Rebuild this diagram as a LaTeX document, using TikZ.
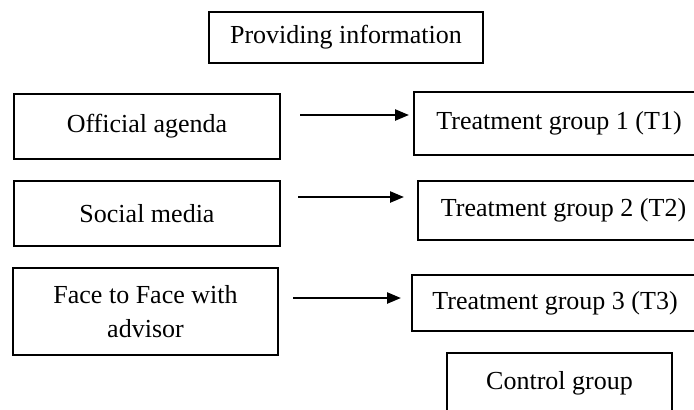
\documentclass[tikz,border=0pt]{standalone}
\usepackage{fontspec}
\setmainfont{Liberation Serif}
\usepackage{tikz}
\usetikzlibrary{arrows.meta}

\begin{document}
\begin{tikzpicture}[x=0.5pt, y=-0.5pt]
\tikzstyle{group} = [rectangle, draw=black, line width=1 pt, inner sep=0 pt, text centered, font=\fontsize{13}{17}\selectfont]
\tikzstyle{link} = [-{Triangle[length=7pt, width=5.5pt]}, line width=1.2 pt]
\useasboundingbox (0,0) rectangle (694,409);
\clip (0,0) rectangle (694,409);

\node (info)     [group, minimum width=137 pt, minimum height=25.5 pt] at (346,37.5) {Providing information};
\node (official) [group, minimum width=133 pt, minimum height=32.5 pt] at (147,126.5) {Official agenda};
\node (social)   [group, minimum width=133 pt, minimum height=32.5 pt] at (147,213.5) {Social media};
\node (face)     [group, align=center, minimum width=132.5 pt, minimum height=43.5 pt, text depth=-4 pt] at (145.5,311.5) {Face to Face with\\advisor};

\node (T1) [group, minimum width=145 pt, minimum height=31.5 pt] at (559,123.5) {Treatment group 1 (T1)};
\node (T2) [group, minimum width=145.5 pt, minimum height=29.5 pt] at (563.5,210.5) {Treatment group 2 (T2)};
\node (T3) [group, minimum width=143 pt, minimum height=28 pt] at (555,303) {Treatment group 3 (T3)};
\node (control) [group, anchor=north, minimum width=112.5 pt, text height=18 pt, text depth=20 pt] at (559.5,352) {Control group};

\draw [link] ([shift={(19,-11.5)}]official.east) -- ([shift={(-4,-8.5)}]T1.west);
\draw [link] ([shift={(17,-16.5)}]social.east) -- ([shift={(-13,-13.5)}]T2.west);
\draw [link] ([shift={(14,-13.5)}]face.east) -- ([shift={(-10,-5)}]T3.west);

\end{tikzpicture}
\end{document}
